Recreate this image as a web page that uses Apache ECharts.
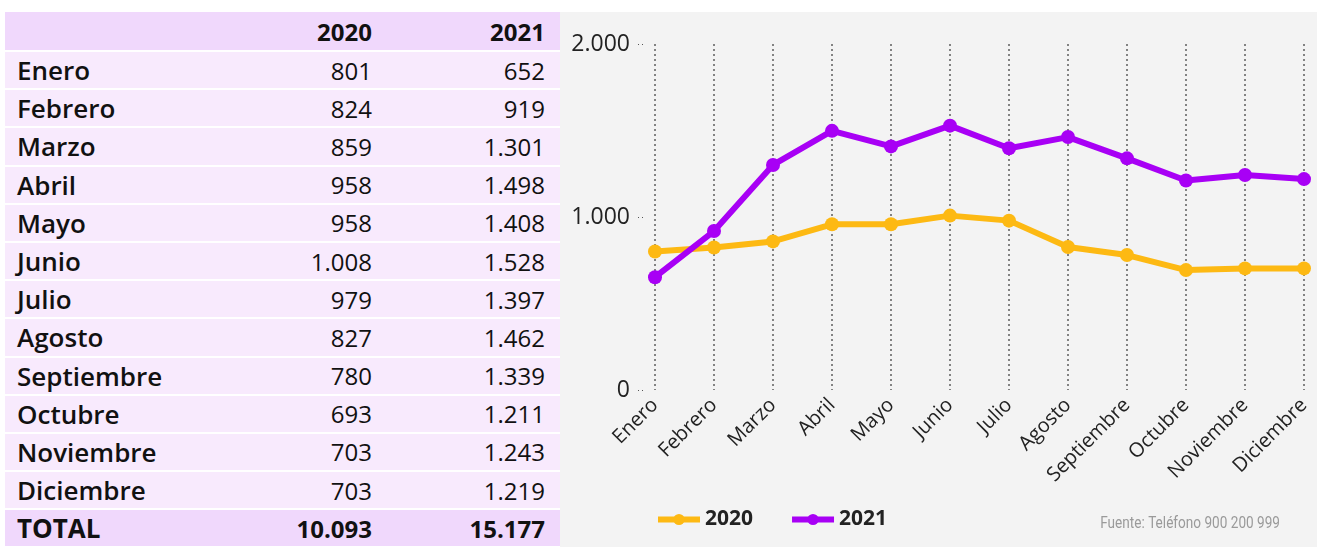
<!DOCTYPE html>
<html>
<head>
<meta charset="utf-8">
<script src="https://cdn.jsdelivr.net/npm/echarts@6/dist/echarts.min.js"></script>
<style>
  html, body { margin: 0; padding: 0; background: #fff; }
  body { width: 1317px; height: 547px; position: relative; overflow: hidden; font-family: 'Open Sans', Lato, sans-serif; }
  #tabla { position: absolute; left: 5px; top: 12px; width: 555px; }
  .fila { display: flex; align-items: center; height: 36.2px; margin-bottom: 2px; background: #f8eafd; color: #111; font-size: 24px; font-weight: 400; }
  .fila.cab, .fila.total { background: #f0d8fc; font-weight: 700; }
  .fila.cab { height: 38px; margin-bottom: 0; border-bottom: 2px solid #fff; }
  .fila .mes { width: 240px; padding-left: 12px; font-weight: 600; font-size: 26px; }
  .fila.total .mes { font-weight: 700; }
  .fila .v1 { width: 115px; text-align: right; }
  .fila .v2 { width: 173px; text-align: right; }
  #grafico { position: absolute; left: 560px; top: 12px; width: 757px; height: 535px; background: #f3f3f3; }
</style>
</head>
<body>
<div id="tabla"></div>
<div id="grafico"></div>
<script>
// Datos
var meses = ['Enero', 'Febrero', 'Marzo', 'Abril', 'Mayo', 'Junio', 'Julio', 'Agosto', 'Septiembre', 'Octubre', 'Noviembre', 'Diciembre'];
var datos2020 = [801, 824, 859, 958, 958, 1008, 979, 827, 780, 693, 703, 703];
var datos2021 = [652, 919, 1301, 1498, 1408, 1528, 1397, 1462, 1339, 1211, 1243, 1219];
var anios = ['2020', '2021'];
var totales = [10093, 15177];
var ticksY = [0, 1000, 2000];

function fmt(n) {
    return String(n).replace(/\B(?=(\d{3})+(?!\d))/g, '.');
}

// Tabla
var html = '<div class="fila cab"><span class="mes"></span><span class="v1">' + anios[0] + '</span><span class="v2">' + anios[1] + '</span></div>';
for (var i = 0; i < meses.length; i++) {
    html += '<div class="fila"><span class="mes">' + meses[i] + '</span><span class="v1">' + fmt(datos2020[i]) +
        '</span><span class="v2">' + fmt(datos2021[i]) + '</span></div>';
}
html += '<div class="fila total"><span class="mes">TOTAL</span><span class="v1">' + fmt(totales[0]) + '</span><span class="v2">' + fmt(totales[1]) + '</span></div>';
document.getElementById('tabla').innerHTML = html;

// Gráfico
var option = {
    animation: false,
    grid: { left: 95, right: 13, top: 32, bottom: 157 },
    legend: {
        left: 90,
        top: 492,
        itemGap: 36,
        itemWidth: 42,
        itemHeight: 14,
        lineStyle: { width: 6 },
        textStyle: { fontFamily: 'Open Sans', fontWeight: 'bold', fontSize: 21, color: '#222' },
        data: anios
    },
    graphic: [{
        type: 'text',
        x: 720,
        y: 512,
        scaleX: 0.8,
        style: {
            text: 'Fuente: Teléfono 900 200 999', fill: '#9a9a9a', align: 'right', verticalAlign: 'middle',
            font: '17px Roboto, sans-serif'
        }
    }],
    xAxis: {
        type: 'category',
        data: meses,
        boundaryGap: false,
        axisLine: { show: false },
        axisTick: { show: false },
        axisLabel: { rotate: 45, margin: 12, fontSize: 20, color: '#222', fontFamily: 'Open Sans' },
        splitLine: { show: true, lineStyle: { color: '#666', width: 1.6, type: [2, 3] } }
    },
    yAxis: {
        type: 'value',
        min: ticksY[0],
        max: ticksY[ticksY.length - 1],
        interval: 1000,
        offset: 12,
        axisLine: { show: false },
        axisTick: { show: true, length: 7, lineStyle: { color: '#555', type: [1, 3] } },
        axisLabel: { margin: 13, fontSize: 23, color: '#222', fontFamily: 'Open Sans', formatter: function (v) { return fmt(v); } },
        splitLine: { show: false }
    },
    series: [
        {
            name: anios[0],
            type: 'line',
            data: datos2020,
            color: '#fdb913',
            symbol: 'circle',
            symbolSize: 14,
            lineStyle: { width: 6 }
        },
        {
            name: anios[1],
            type: 'line',
            data: datos2021,
            color: '#a800f5',
            symbol: 'circle',
            symbolSize: 14,
            lineStyle: { width: 6 }
        }
    ]
};
var myChart = echarts.init(document.getElementById('grafico'));
myChart.setOption(option);
</script>
</body>
</html>
